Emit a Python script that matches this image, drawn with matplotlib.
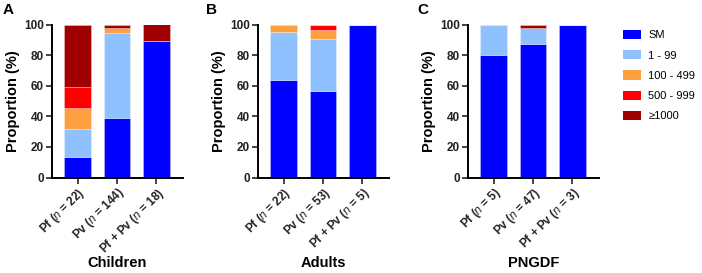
import matplotlib.pyplot as plt
from matplotlib.patches import Patch

plt.rcParams['font.family'] = 'Liberation Sans'
plt.rcParams['mathtext.fontset'] = 'custom'
plt.rcParams['mathtext.it'] = 'Liberation Sans:italic'
plt.rcParams['mathtext.rm'] = 'Liberation Sans'

# categories de densidad
categories = ['SM', '1 - 99', '100 - 499', '500 - 999', '≥1000']
colors = ['#0000FF', '#8FC1FF', '#FFA040', '#FF0000', '#A00000']

groups = ['Children', 'Adults', 'PNGDF']
panel_letters = ['A', 'B', 'C']

children_labels = ['Pf ($\\mathit{n}$ = 22)', 'Pv ($\\mathit{n}$ = 144)', 'Pf + Pv ($\\mathit{n}$ = 18)']
adults_labels = ['Pf ($\\mathit{n}$ = 22)', 'Pv ($\\mathit{n}$ = 53)', 'Pf + Pv ($\\mathit{n}$ = 5)']
pngdf_labels = ['Pf ($\\mathit{n}$ = 5)', 'Pv ($\\mathit{n}$ = 47)', 'Pf + Pv ($\\mathit{n}$ = 3)']

# proporciones (%) por categoria: [Pf, Pv, Pf+Pv]
children_sm = [13.6, 38.9, 88.9]
children_1_99 = [18.2, 55.6, 0]
children_100_499 = [13.6, 3.5, 0]
children_500_999 = [13.6, 0, 0]
children_1000 = [41.0, 2.0, 11.1]

adults_sm = [63.6, 56.6, 100]
adults_1_99 = [31.8, 34.0, 0]
adults_100_499 = [4.6, 5.6, 0]
adults_500_999 = [0, 3.8, 0]
adults_1000 = [0, 0, 0]

pngdf_sm = [80.0, 87.2, 100]
pngdf_1_99 = [20.0, 10.6, 0]
pngdf_100_499 = [0, 0, 0]
pngdf_500_999 = [0, 0, 0]
pngdf_1000 = [0, 2.2, 0]

data = [
    (children_labels, [children_sm, children_1_99, children_100_499, children_500_999, children_1000]),
    (adults_labels, [adults_sm, adults_1_99, adults_100_499, adults_500_999, adults_1000]),
    (pngdf_labels, [pngdf_sm, pngdf_1_99, pngdf_100_499, pngdf_500_999, pngdf_1000]),
]

W, H = 702, 273
fig = plt.figure(figsize=(W / 100, H / 100), dpi=100)

axes_left = [51.7, 257.7, 467.7]
letter_x = [3, 206, 417]
ax_w = 131
ax_top, ax_bottom = 24.5, 177.5
ax_h = ax_bottom - ax_top

for k in range(3):
    labels, series = data[k]
    ax = fig.add_axes([axes_left[k] / W, (H - ax_bottom) / H, ax_w / W, ax_h / H])
    x = range(len(labels))
    bottom = [0, 0, 0]
    for vals, col in zip(series, colors):
        ax.bar(x, vals, bottom=bottom, width=0.67, color=col, edgecolor=(1, 1, 1, 0.35), linewidth=0.6)
        bottom = [b + v for b, v in zip(bottom, vals)]

    ax.set_xlim(-0.66, 2.67)
    ax.set_ylim(0, 100)
    ax.set_yticks([0, 20, 40, 60, 80, 100])
    ax.set_xticks(list(x))
    ax.set_xticklabels(labels, rotation=45, ha='right', rotation_mode='anchor', fontsize=8.5, fontweight='bold')
    for t in ax.get_yticklabels():
        t.set_fontweight('bold')
        t.set_fontsize(8.5)
    ax.spines['top'].set_visible(False)
    ax.spines['right'].set_visible(False)
    ax.spines['left'].set_linewidth(1.4)
    ax.spines['bottom'].set_linewidth(1.4)
    ax.tick_params(width=1.2, length=4, pad=1.5, colors='#222222')
    ax.set_ylabel('Proportion (%)', fontsize=10.5, fontweight='bold', labelpad=3)
    ax.set_xlabel(groups[k], fontsize=10.5, fontweight='bold')
    ax.xaxis.set_label_coords(0.5, (ax_bottom - 256) / ax_h)

    fig.text(letter_x[k] / W, 1 - 14 / H, panel_letters[k], fontsize=11, fontweight='bold')

handles = [Patch(facecolor=c, edgecolor='none') for c in colors]
fig.legend(handles, categories, loc='upper left', bbox_to_anchor=(614 / W, 1 - 21 / H),
           frameon=False, fontsize=8, handlelength=1.6, handleheight=0.9,
           labelspacing=0.88, handletextpad=0.7, borderpad=0.3)

fig.savefig('out.png', dpi=100)
